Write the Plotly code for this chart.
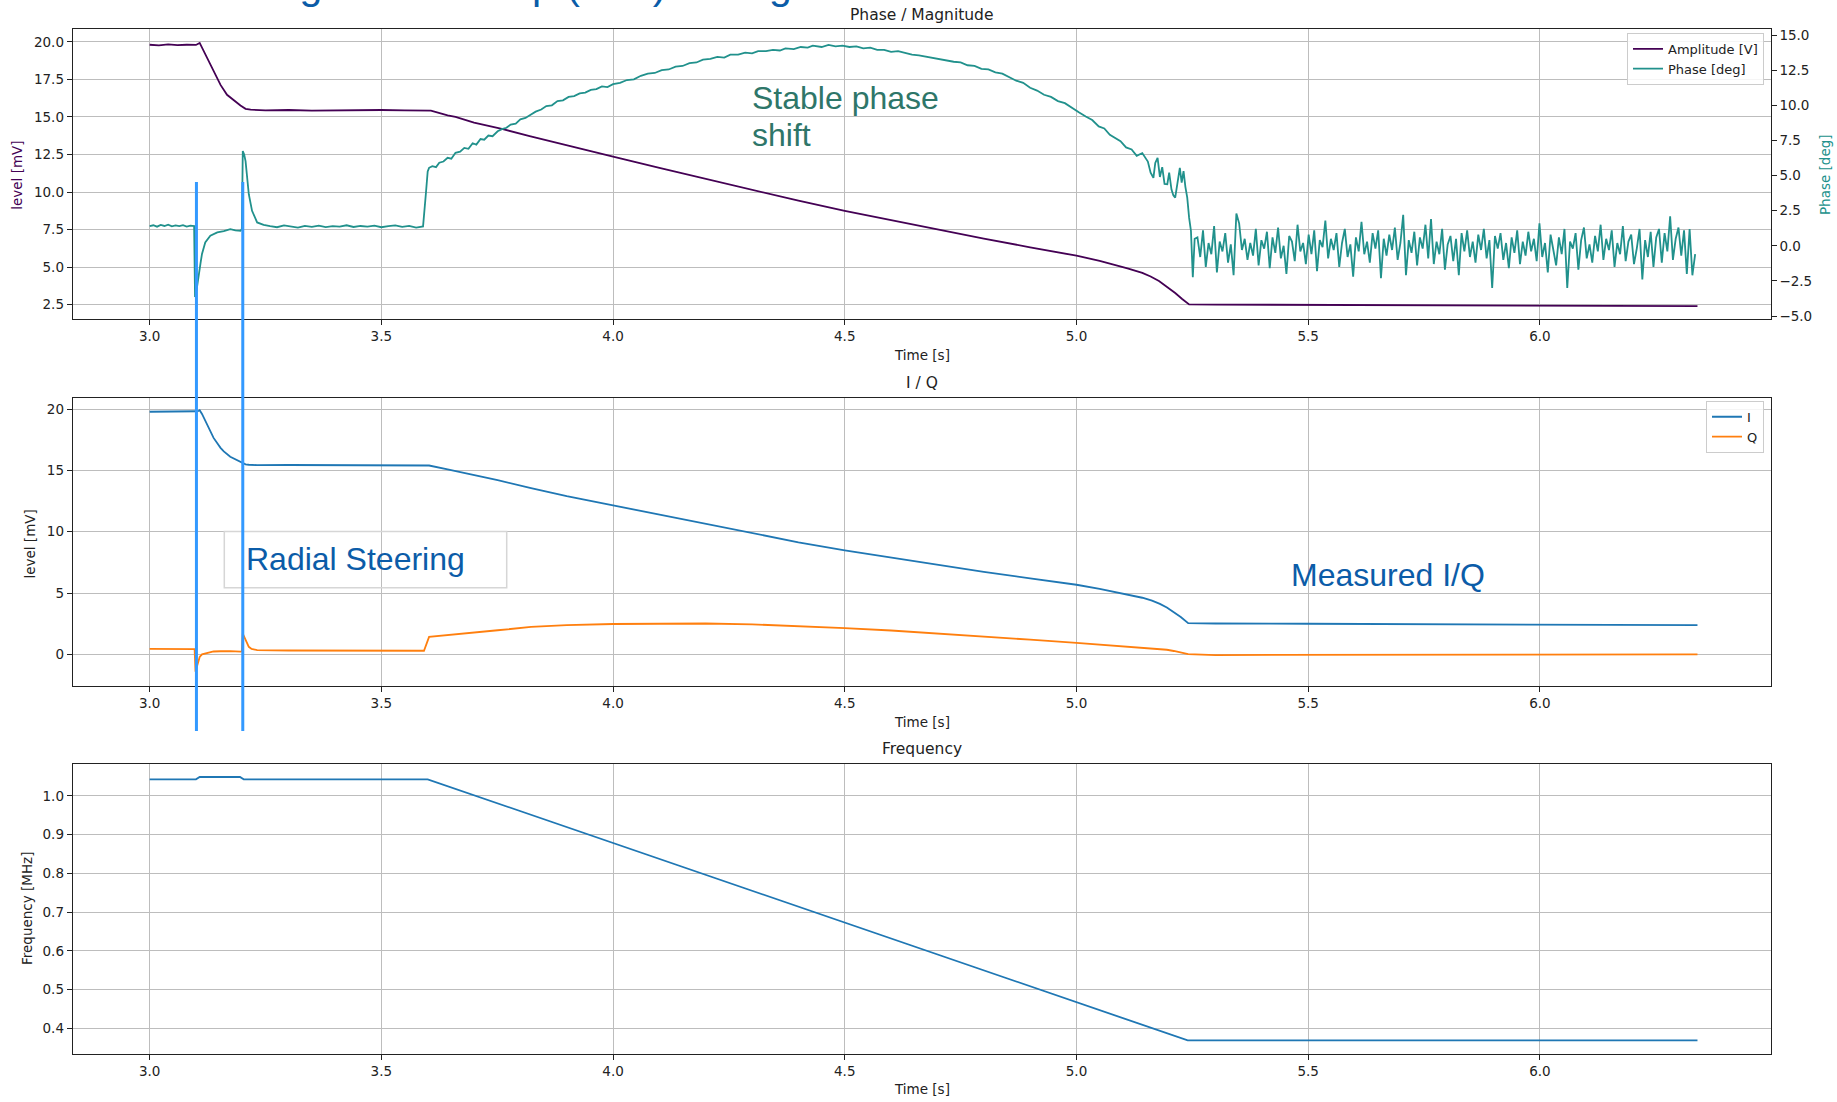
import plotly.graph_objects as go

# ---------------- data ----------------
amp_t = [3.000, 3.020, 3.040, 3.060, 3.080, 3.100, 3.108, 3.124, 3.138, 3.153, 3.167, 3.182,
         3.196, 3.207, 3.218, 3.250, 3.300, 3.350, 3.400, 3.450, 3.500, 3.550, 3.595, 3.607,
         3.643, 3.660, 3.700, 3.760, 3.820, 3.900, 4.000, 4.100, 4.190, 4.300, 4.400, 4.500,
         4.600, 4.700, 4.800, 4.900, 5.000, 5.050, 5.083, 5.110, 5.142, 5.160, 5.178, 5.195,
         5.213, 5.228, 5.243, 5.300, 5.500, 5.700, 5.900, 6.100, 6.340]
amp_v = [19.80, 19.76, 19.82, 19.78, 19.80, 19.79, 19.92, 18.90, 18.00, 17.13, 16.47, 16.07,
         15.76, 15.54, 15.48, 15.43, 15.46, 15.42, 15.45, 15.44, 15.46, 15.44, 15.46, 15.42,
         15.10, 15.00, 14.62, 14.20, 13.72, 13.10, 12.35, 11.60, 10.95, 10.12, 9.42, 8.74,
         8.12, 7.50, 6.90, 6.32, 5.76, 5.42, 5.16, 4.92, 4.62, 4.38, 4.08, 3.72,
         3.28, 2.88, 2.52, 2.51, 2.49, 2.47, 2.45, 2.43, 2.40]

phase_t = [3.000, 3.008, 3.016, 3.024, 3.032, 3.040, 3.048, 3.056, 3.064, 3.072, 3.080, 3.088,
           3.096, 3.098, 3.102, 3.106, 3.110, 3.113, 3.120, 3.131, 3.146, 3.160, 3.174, 3.185,
           3.196, 3.199, 3.201, 3.204, 3.207, 3.214, 3.221, 3.232, 3.246,
           3.260, 3.275, 3.290, 3.305, 3.320, 3.335, 3.350, 3.365, 3.380, 3.395, 3.410, 3.425,
           3.440, 3.455, 3.470, 3.485, 3.500, 3.515, 3.530, 3.545, 3.560, 3.575, 3.590,
           3.596, 3.600, 3.603, 3.610, 3.618, 3.625, 3.634, 3.643, 3.651, 3.660, 3.670, 3.679,
           3.688, 3.697, 3.705, 3.714, 3.722, 3.731, 3.740, 3.751, 3.760, 3.770, 3.779, 3.790,
           3.800, 3.811, 3.823, 3.833, 3.845, 3.856, 3.868, 3.880, 3.892, 3.904, 3.916, 3.928,
           3.940, 3.952, 3.964, 3.976, 3.988, 4.000, 4.015, 4.030, 4.045, 4.060, 4.075, 4.090,
           4.105, 4.120, 4.135, 4.150, 4.165, 4.180, 4.194, 4.210, 4.225, 4.240, 4.253, 4.270,
           4.285, 4.300, 4.313, 4.330, 4.345, 4.360, 4.372, 4.390, 4.405, 4.420, 4.431, 4.450,
           4.465, 4.480, 4.495, 4.510, 4.525, 4.540, 4.555, 4.570, 4.585, 4.600, 4.615, 4.630,
           4.645, 4.660, 4.675, 4.690, 4.705, 4.720, 4.735, 4.750, 4.765, 4.780, 4.795, 4.810,
           4.825, 4.840, 4.855, 4.870, 4.885, 4.900, 4.915, 4.930, 4.945, 4.960, 4.975, 4.990,
           5.005, 5.020, 5.034, 5.048, 5.060, 5.072, 5.083, 5.095, 5.107, 5.119, 5.130, 5.142,
           5.154, 5.160, 5.166, 5.170, 5.175, 5.180, 5.185, 5.190, 5.196, 5.200, 5.205, 5.209,
           5.213, 5.218, 5.223, 5.227, 5.231, 5.235, 5.239, 5.243, 5.247, 5.251]
phase_v = [1.40, 1.46, 1.36, 1.48, 1.41, 1.50, 1.38, 1.45, 1.40, 1.47, 1.37, 1.44,
           1.40, -3.65, -3.00, -2.24, -1.20, -0.58, 0.24, 0.72, 0.95, 1.05, 1.19, 1.10,
           1.07, 1.20, 6.74, 6.50, 6.03, 3.67, 2.49, 1.66, 1.49,
           1.40, 1.32, 1.45, 1.36, 1.30, 1.42, 1.35, 1.44, 1.33, 1.40, 1.37, 1.46,
           1.34, 1.41, 1.36, 1.43, 1.32, 1.40, 1.45, 1.35, 1.41, 1.30, 1.38,
           3.67, 5.30, 5.55, 5.67, 5.60, 5.91, 6.00, 6.26, 6.20, 6.62, 6.70, 6.97,
           6.90, 7.30, 7.20, 7.60, 7.55, 7.85, 7.80, 8.15, 8.30, 8.40, 8.63, 8.70,
           9.00, 9.10, 9.35, 9.55, 9.70, 9.95, 10.00, 10.30, 10.35, 10.60, 10.65, 10.85,
           10.90, 11.10, 11.15, 11.35, 11.30, 11.50, 11.60, 11.80, 11.85, 12.10, 12.25, 12.30,
           12.50, 12.55, 12.75, 12.80, 13.00, 13.05, 13.25, 13.30, 13.45, 13.40, 13.60, 13.60,
           13.75, 13.70, 13.85, 13.85, 13.95, 13.90, 14.05, 14.00, 14.15, 14.10, 14.25, 14.15,
           14.30, 14.20, 14.25, 14.15, 14.20, 14.05, 14.10, 13.95, 13.95, 13.80, 13.85, 13.70,
           13.60, 13.55, 13.45, 13.40, 13.30, 13.20, 13.10, 13.05, 12.85, 12.80, 12.60, 12.55,
           12.35, 12.25, 12.00, 11.75, 11.60, 11.25, 11.05, 10.75, 10.60, 10.30, 10.15, 9.80,
           9.50, 9.20, 8.95, 8.50, 8.35, 7.90, 7.70, 7.45, 7.00, 6.86, 6.40, 6.60,
           6.00, 5.20, 4.84, 5.90, 6.26, 4.90, 5.60, 4.40, 4.38, 5.20, 4.00, 3.60,
           3.43, 4.60, 5.55, 4.50, 5.32, 4.20, 3.43, 2.00, 1.07, -2.24]

# noisy phase after the ramp (one reading every 6 ms from 5.255 s)
phase_tail_start = 5.255
phase_tail_step = 0.006
phase_tail_v = [
    0.5, 0.6, -0.8, 1.1, -1.5, 0.2, -0.6, 1.4, -1.9, 0.3,
    -0.4, 0.9, -1.2, 0.1, -2.1, 2.3, 1.6, -0.3, 0.5, -1.0,
    0.2, -0.7, 1.2, -1.4, 0.4, -0.2, 1.0, -1.6, 0.6, -0.5,
    1.3, -0.9, 0.0, -2.0, 0.7, 0.3, -1.1, 1.5, -0.4, 0.2,
    -1.3, 0.8, -0.6, 1.1, -1.8, 0.4, -0.1, 1.8, -0.9, 0.5,
    -0.3, 0.9, -1.5, 0.2, 1.2, -0.8, 0.1, -2.2, 0.6, -0.4,
    1.7, -0.6, 0.3, -1.2, 0.9, -0.2, 1.1, -2.3, 0.5, -0.7,
    0.8, -0.3, 1.3, -1.0, 0.2, 2.2, -2.1, 0.4, -0.5, 1.0,
    -1.4, 0.6, -0.2, 1.5, -0.9, 1.9, -1.3, 0.3, -0.6, 1.2,
    -1.7, 0.1, 0.7, -1.1, 0.5, -2.1, 0.9, -0.4, 1.1, -0.8,
    0.3, -1.2, 0.8, -0.3, 1.2, -0.9, 0.4, -3.0, 0.7, -0.2,
    0.9, -1.0, 0.2, -1.6, 0.6, -0.5, 1.1, -1.3, 0.3, -0.7,
    1.0, -0.4, 0.5, -1.1, 1.6, -0.8, 0.2, -1.9, 0.8, -0.3,
    -1.4, 0.6, -0.6, 1.2, -3.0, 0.3, -0.2, 0.9, -1.7, 0.4,
    1.3, -0.9, 0.1, -1.2, 0.7, -0.4, 1.5, -1.0, 0.5, -0.3,
    1.1, -1.5, 0.2, -0.6, 1.4, -1.1, 0.3, 0.8, -1.3, -0.2,
    1.2, -2.4, 0.4, -0.8, 1.0, -1.5, 0.6, 1.2, -1.2, 0.9,
    -0.4, 2.1, -1.0, 0.5, 1.3, -0.7, 1.1, -2.0, 1.2, -2.1, -0.6]

iq_t = [3.000, 3.050, 3.097, 3.099, 3.103, 3.106, 3.108, 3.113, 3.124, 3.131, 3.138, 3.153,
        3.160, 3.174, 3.196, 3.199, 3.201, 3.207, 3.214, 3.220, 3.232, 3.300, 3.400, 3.500,
        3.592, 3.603, 3.643, 3.700, 3.715, 3.751, 3.823, 3.900, 4.000, 4.100, 4.190, 4.200,
        4.300, 4.400, 4.500, 4.600, 4.700, 4.800, 4.900, 5.000, 5.050, 5.083, 5.110, 5.142,
        5.163, 5.180, 5.195, 5.210, 5.225, 5.241, 5.300, 5.500, 5.700, 5.900, 6.100, 6.340]
i_v = [19.78, 19.80, 19.77, 19.78, 19.82, 19.86, 19.90, 19.60, 18.73, 18.20, 17.65, 16.84,
       16.55, 16.11, 15.67, 15.60, 15.55, 15.49, 15.46, 15.44, 15.43, 15.44, 15.42, 15.44,
       15.44, 15.40, 15.08, 14.62, 14.50, 14.20, 13.55, 12.90, 12.15, 11.40, 10.72, 10.65,
       9.86, 9.14, 8.48, 7.88, 7.28, 6.73, 6.20, 5.68, 5.35, 5.10, 4.88, 4.62,
       4.38, 4.12, 3.82, 3.45, 3.05, 2.55, 2.52, 2.50, 2.47, 2.44, 2.41, 2.38]
q_v = [0.45, 0.43, 0.44, -1.40, -0.90, -0.32, -0.20, 0.00, 0.12, 0.22, 0.24, 0.26,
       0.27, 0.27, 0.23, 0.25, 1.70, 1.16, 0.62, 0.45, 0.35, 0.32, 0.30, 0.31,
       0.30, 1.43, 1.56, 1.75, 1.82, 1.97, 2.24, 2.38, 2.48, 2.53, 2.52, 2.52,
       2.45, 2.32, 2.15, 1.95, 1.72, 1.47, 1.20, 0.95, 0.80, 0.72, 0.62, 0.55,
       0.49, 0.45, 0.38, 0.28, 0.15, 0.03, -0.05, -0.04, -0.06, -0.03, -0.05, 0.00]

freq_t = [3.000, 3.100, 3.108, 3.195, 3.203, 3.600, 5.240, 6.340]
freq_v = [1.043, 1.043, 1.049, 1.049, 1.043, 1.043, 0.369, 0.369]

steering_times = [3.101, 3.201]

# ---------------- figure ----------------
W, H = 1837, 1102
def px(x):
    return x / W
def py(y):
    return 1 - y / H

phase_tail_t = [phase_tail_start + k * phase_tail_step for k in range(len(phase_tail_v))]

PURPLE = "#440154"
TEAL = "#21918c"
C_I = "#1f77b4"
C_Q = "#ff7f0e"
ANN_BLUE = "#0B5CA8"
ANN_TEAL = "#2E7669"
GRID = "#bdbdbd"
DJ = "DejaVu Sans"
TICKFONT = dict(family=DJ, size=13.5, color="#222222")

fig = go.Figure()
fig.add_trace(go.Scatter(x=amp_t, y=amp_v, mode="lines", name="Amplitude [V]",
                         line=dict(color=PURPLE, width=1.8), xaxis="x", yaxis="y", legend="legend"))
fig.add_trace(go.Scatter(x=phase_t + phase_tail_t, y=phase_v + phase_tail_v, mode="lines",
                         name="Phase [deg]", line=dict(color=TEAL, width=1.8),
                         xaxis="x", yaxis="y2", legend="legend"))
fig.add_trace(go.Scatter(x=iq_t, y=i_v, mode="lines", name="I", line=dict(color=C_I, width=1.8),
                         xaxis="x2", yaxis="y3", legend="legend2"))
fig.add_trace(go.Scatter(x=iq_t, y=q_v, mode="lines", name="Q", line=dict(color=C_Q, width=1.8),
                         xaxis="x2", yaxis="y3", legend="legend2"))
fig.add_trace(go.Scatter(x=freq_t, y=freq_v, mode="lines", name="Frequency",
                         line=dict(color=C_I, width=1.8), xaxis="x3", yaxis="y4", showlegend=False))

xdom = [px(72.7), px(1770.7)]
xrange_ = [2.834, 6.498]

def xax(anchor):
    return dict(domain=xdom, range=xrange_, anchor=anchor, tick0=3.0, dtick=0.5, tickformat=".1f",
                showgrid=True, gridcolor=GRID, gridwidth=1, showline=True, mirror=True,
                linecolor="#222222", linewidth=1, ticks="outside", ticklen=5, tickcolor="#222222",
                tickfont=TICKFONT, zeroline=False)

def yax(anchor, dom, rng, dtick, fmt, grid=True):
    return dict(domain=dom, range=rng, anchor=anchor, tick0=0, dtick=dtick, tickformat=fmt,
                showgrid=grid, gridcolor=GRID, gridwidth=1, showline=True, mirror=True,
                linecolor="#222222", linewidth=1, ticks="outside", ticklen=5, tickcolor="#222222",
                tickfont=TICKFONT, zeroline=False)

dom1 = [py(319.0), py(27.3)]
dom2 = [py(687.7), py(397.7)]
dom3 = [py(1057.3), py(766.0)]

y2 = yax("x", dom1, [-5.23, 15.42], 2.5, ".1f", grid=False)
y2.update(overlaying="y", side="right", mirror=False)

LEGFONT = dict(family=DJ, size=13, color="#222222")
fig.update_layout(
    width=W, height=H, margin=dict(l=0, r=0, t=0, b=0),
    paper_bgcolor="white", plot_bgcolor="white",
    showlegend=True,
    xaxis=xax("y"),
    yaxis=yax("x", dom1, [1.53, 20.84], 2.5, ".1f"),
    yaxis2=y2,
    xaxis2=xax("y3"),
    yaxis3=yax("x2", dom2, [-2.57, 20.94], 5, "d"),
    xaxis3=xax("y4"),
    yaxis4=yax("x3", dom3, [0.335, 1.083], 0.1, ".1f"),
    legend=dict(x=px(1764), y=py(31), xanchor="right", yanchor="top",
                bgcolor="rgba(255,255,255,0.85)", bordercolor="#cccccc", borderwidth=1,
                font=LEGFONT, itemwidth=30, tracegroupgap=0),
    legend2=dict(x=px(1764), y=py(401), xanchor="right", yanchor="top",
                 bgcolor="rgba(255,255,255,0.85)", bordercolor="#cccccc", borderwidth=1,
                 font=LEGFONT, itemwidth=30, tracegroupgap=0),
)

annotations = []
def label(text, x, y, size=13.5, color="#222222", angle=0, family=DJ, xanchor="center"):
    annotations.append(dict(text=text, x=px(x), y=py(y), xref="paper", yref="paper",
                            xanchor=xanchor, yanchor="middle", showarrow=False, textangle=angle,
                            font=dict(family=family, size=size, color=color)))

# subplot titles
label("Phase / Magnitude", 921.7, 13.5, size=15.5)
label("I / Q", 921.7, 383, size=15.5)
label("Frequency", 921.7, 751, size=15.5)
# x axis titles
label("Time [s]", 921.7, 355)
label("Time [s]", 921.7, 724)
label("Time [s]", 921.7, 1093)
# y axis titles
label("level [mV]", 16.7, 174, color=PURPLE, angle=-90)
label("Phase [deg]", 1825, 174, color=TEAL, angle=-90)
label("level [mV]", 30.5, 545, angle=-90)
label("Frequency [MHz]", 27, 912, angle=-90)
# overlay texts
ARIAL = "Liberation Sans, Arial"
label("Stable phase", 750, 96.5, size=32, color=ANN_TEAL, family=ARIAL, xanchor="left")
label("shift", 750, 133.8, size=32, color=ANN_TEAL, family=ARIAL, xanchor="left")
label("Radial Steering", 244, 560.5, size=32, color=ANN_BLUE, family=ARIAL, xanchor="left")
label("Measured I/Q", 1289, 576.5, size=32, color=ANN_BLUE, family=ARIAL, xanchor="left")
label("Longitudinal Loop (PLL) during acceleration", 229, -17, size=41, color=ANN_BLUE,
      family=ARIAL, xanchor="left")
fig.update_layout(annotations=annotations)

shapes = [dict(type="rect", xref="paper", yref="paper", x0=px(224.3), x1=px(506.7),
               y0=py(589), y1=py(532.3), line=dict(color="#d6d6d6", width=1.5),
               fillcolor="rgba(0,0,0,0)", layer="above")]
for t in steering_times:
    shapes.append(dict(type="line", xref="x", yref="paper", x0=t, x1=t,
                       y0=py(733), y1=py(181), line=dict(color="#3399ff", width=3), layer="above"))
fig.update_layout(shapes=shapes)

fig.write_html("out.html")
